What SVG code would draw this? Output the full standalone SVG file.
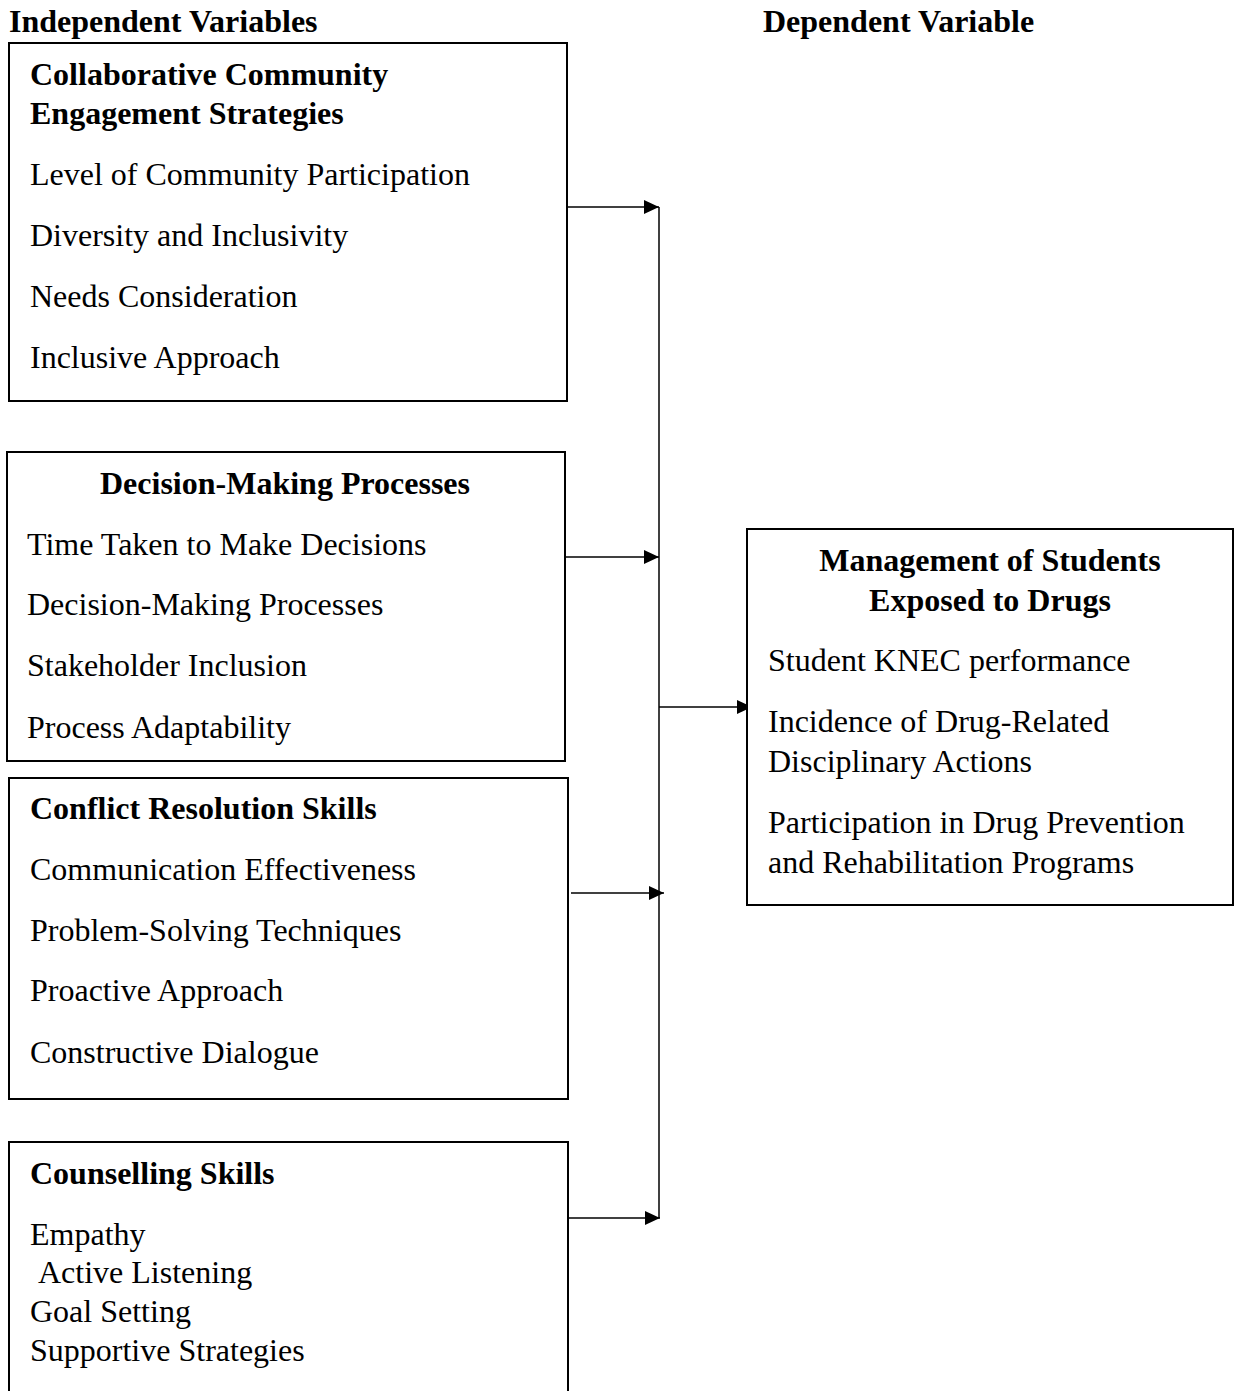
<svg xmlns="http://www.w3.org/2000/svg" width="1235" height="1391" viewBox="0 0 1235 1391">
<style>
.t{font-family:"Liberation Serif","Times New Roman",serif;font-size:32px;fill:#000}
.b{font-weight:bold}
.box{fill:#fff;stroke:#000;stroke-width:2}
.c{stroke:#000;stroke-width:1.5;fill:none}
</style>
<defs>
<marker id="ah" viewBox="0 0 15 14" refX="15" refY="7" markerWidth="15" markerHeight="14" markerUnits="userSpaceOnUse" orient="auto">
<path d="M0,0 L15,7 L0,14 Z" fill="#000"/>
</marker>
</defs>
<rect width="1235" height="1391" fill="#fff"/>
<text class="t b" x="9" y="32">Independent Variables</text>
<text class="t b" x="763" y="32">Dependent Variable</text>
<g id="connectors">
<line class="c" x1="659" y1="207" x2="659" y2="1218"/>
<line class="c" x1="567" y1="207" x2="659" y2="207" marker-end="url(#ah)"/>
<line class="c" x1="565" y1="557" x2="659" y2="557" marker-end="url(#ah)"/>
<line class="c" x1="571" y1="893" x2="664" y2="893" marker-end="url(#ah)"/>
<line class="c" x1="568" y1="1218" x2="660" y2="1218" marker-end="url(#ah)"/>
<line class="c" x1="659" y1="707" x2="752" y2="707" marker-end="url(#ah)"/>
</g>
<g id="node-collaborative">
<rect class="box" x="9" y="43" width="558" height="358"/>
<text class="t b" x="30" y="85">Collaborative Community</text>
<text class="t b" x="30" y="124">Engagement Strategies</text>
<text class="t" x="30" y="185">Level of Community Participation</text>
<text class="t" x="30" y="246">Diversity and Inclusivity</text>
<text class="t" x="30" y="307">Needs Consideration</text>
<text class="t" x="30" y="368">Inclusive Approach</text>
</g>
<g id="node-decision">
<rect class="box" x="7" y="452" width="558" height="309"/>
<text class="t b" x="285" y="494" text-anchor="middle">Decision-Making Processes</text>
<text class="t" x="27" y="555">Time Taken to Make Decisions</text>
<text class="t" x="27" y="615">Decision-Making Processes</text>
<text class="t" x="27" y="676">Stakeholder Inclusion</text>
<text class="t" x="27" y="738">Process Adaptability</text>
</g>
<g id="node-conflict">
<rect class="box" x="9" y="778" width="559" height="321"/>
<text class="t b" x="30" y="819">Conflict Resolution Skills</text>
<text class="t" x="30" y="880">Communication Effectiveness</text>
<text class="t" x="30" y="941">Problem-Solving Techniques</text>
<text class="t" x="30" y="1001">Proactive Approach</text>
<text class="t" x="30" y="1063">Constructive Dialogue</text>
</g>
<g id="node-counselling">
<rect class="box" x="9" y="1142" width="559" height="260"/>
<text class="t b" x="30" y="1184">Counselling Skills</text>
<text class="t" x="30" y="1245">Empathy</text>
<text class="t" x="38" y="1283">Active Listening</text>
<text class="t" x="30" y="1322">Goal Setting</text>
<text class="t" x="30" y="1361">Supportive Strategies</text>
</g>
<g id="node-management">
<rect class="box" x="747" y="529" width="486" height="376"/>
<text class="t b" x="990" y="571" text-anchor="middle">Management of Students</text>
<text class="t b" x="990" y="611" text-anchor="middle">Exposed to Drugs</text>
<text class="t" x="768" y="671">Student KNEC performance</text>
<text class="t" x="768" y="732">Incidence of Drug-Related</text>
<text class="t" x="768" y="772">Disciplinary Actions</text>
<text class="t" x="768" y="833">Participation in Drug Prevention</text>
<text class="t" x="768" y="873">and Rehabilitation Programs</text>
</g>
</svg>
